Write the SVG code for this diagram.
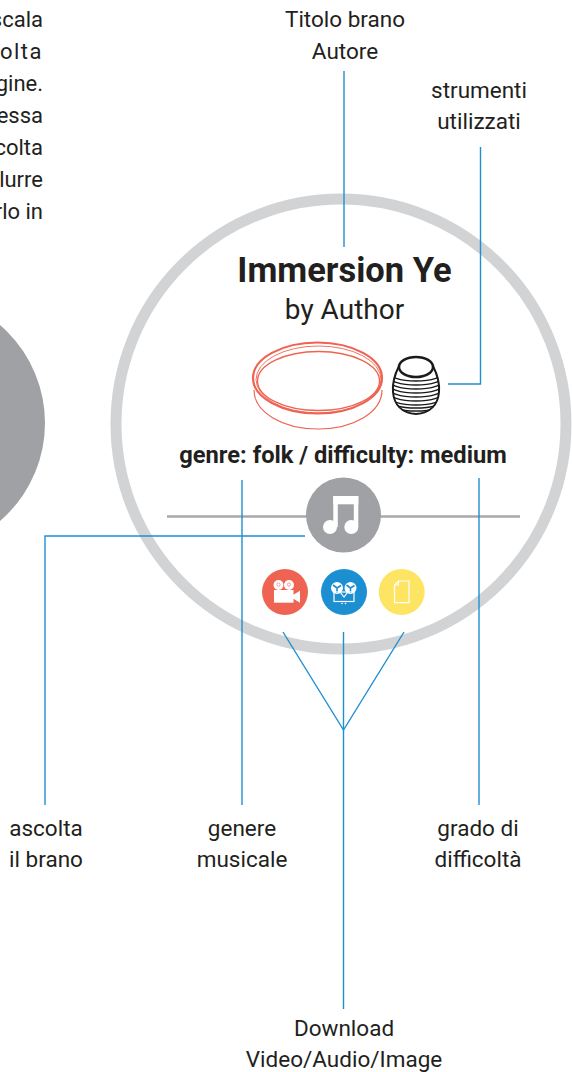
<svg xmlns="http://www.w3.org/2000/svg" width="572" height="1072" viewBox="0 0 572 1072">
  <style>
    .lbl { font-family: Roboto, "Liberation Sans", sans-serif; font-size: 22.5px; fill: #231f20; text-anchor: middle; }
    .side { font-family: Roboto, "Liberation Sans", sans-serif; font-size: 22px; fill: #231f20; text-anchor: end; }
    .title { font-family: Roboto, "Liberation Sans", sans-serif; font-weight: bold; font-size: 34.5px; fill: #231f20; text-anchor: middle; }
    .sub { font-family: Roboto, "Liberation Sans", sans-serif; font-size: 28px; fill: #231f20; text-anchor: middle; }
    .meta { font-family: Roboto, "Liberation Sans", sans-serif; font-weight: bold; font-size: 23.7px; fill: #231f20; text-anchor: middle; }
    .wire { fill: none; stroke: #1f8fd3; stroke-width: 1.4; }
    .hoop { fill: none; stroke: #ee6352; }
    .glyph { fill: #ffffff; }
    .glyph-line { fill: none; stroke: #ffffff; stroke-width: 1.2; }
  </style>
  <defs>
    <clipPath id="shakerBody">
      <path d="M399,366 C395,374 392,382 393,392 C394,404 401,413 416,414 C431,413 438,404 439,392 C440,382 437,374 433,366 Z"/>
    </clipPath>
  </defs>

  <rect width="572" height="1072" fill="#ffffff"/>

  <!-- neighbouring card, cut by the left edge -->
  <g id="prev-card">
    <circle cx="-84" cy="423" r="129" fill="#a0a1a5"/>
    <text class="side" x="43" y="27">scala</text>
    <text class="side" x="43" y="59" letter-spacing="1.5">olta</text>
    <text class="side" x="43" y="91">gine.</text>
    <text class="side" x="43" y="123">essa</text>
    <text class="side" x="43" y="155">colta</text>
    <text class="side" x="43" y="187">lurre</text>
    <text class="side" x="43" y="219">rlo in</text>
  </g>

  <!-- card frame -->
  <g id="card-ring">
    <circle cx="341" cy="424" r="225" fill="none" stroke="#d1d3d4" stroke-width="11"/>
  </g>

  <g id="player-bar">
    <line x1="167" y1="516.5" x2="520" y2="516.5" stroke="#a7a8ab" stroke-width="2.5"/>
  </g>

  <!-- connectors -->
  <g id="connectors">
    <line class="wire" x1="344" y1="71" x2="344" y2="247"/>
    <polyline class="wire" points="448,384 480.5,384 480.5,147"/>
    <polyline class="wire" points="305,536 45,536 45,805"/>
    <line class="wire" x1="242" y1="480" x2="242" y2="805"/>
    <line class="wire" x1="479" y1="478" x2="479" y2="805"/>
    <line class="wire" x1="343.5" y1="632" x2="343.5" y2="1009"/>
    <polyline class="wire" points="283,632 343.5,730 404,632"/>
  </g>

  <g id="song-title">
    <text class="title" x="344.5" y="282">Immersion Ye</text>
    <text class="sub" x="344.5" y="319">by Author</text>
  </g>

  <!-- frame drum -->
  <g id="instrument-drum">
    <path class="hoop" stroke-width="1.2" d="M254,390 C254,412 282,429 318,429 C354,429 382,412 382,390"/>
    <ellipse class="hoop" cx="317.5" cy="378" rx="64.5" ry="35.5" stroke-width="2.2"/>
    <ellipse class="hoop" cx="318.5" cy="379.5" rx="62.5" ry="33.5" stroke-width="0.9"/>
    <ellipse class="hoop" cx="318.5" cy="381" rx="61" ry="29.5" stroke-width="1.3"/>
  </g>

  <!-- shaker -->
  <g id="instrument-shaker">
    <path d="M399,366 C395,374 392,382 393,392 C394,404 401,413 416,414 C431,413 438,404 439,392 C440,382 437,374 433,366 Z" fill="#ffffff" stroke="#1a1a1a" stroke-width="2"/>
    <g clip-path="url(#shakerBody)" fill="none" stroke="#1a1a1a" stroke-width="1.5">
      <path d="M388,372 A28,9 0 0 0 444,372 M388,376 A28,9 0 0 0 444,376 M388,380 A28,9 0 0 0 444,380 M388,384 A28,9 0 0 0 444,384 M388,388 A28,9 0 0 0 444,388 M388,392 A28,9 0 0 0 444,392 M388,396 A28,9 0 0 0 444,396 M388,400 A28,8 0 0 0 444,400 M388,404 A28,7 0 0 0 444,404"/>
    </g>
    <ellipse cx="416" cy="367" rx="17" ry="10" fill="#ffffff" stroke="#1a1a1a" stroke-width="2.5"/>
  </g>

  <g id="song-meta">
    <text class="meta" x="343" y="463">genre: folk / difficulty: medium</text>
  </g>

  <!-- play button -->
  <g id="play-button">
    <circle cx="343.5" cy="515" r="37.5" fill="#a0a1a5"/>
    <rect class="glyph" x="333.3" y="496" width="25" height="8.3"/>
    <rect class="glyph" x="333.3" y="496" width="4.5" height="31"/>
    <rect class="glyph" x="353.8" y="496" width="4.5" height="31"/>
    <circle class="glyph" cx="330" cy="527" r="7"/>
    <circle class="glyph" cx="351.3" cy="527" r="7"/>
  </g>

  <!-- download: video -->
  <g id="download-video">
    <circle cx="285" cy="592" r="23" fill="#ee6352"/>
    <circle class="glyph" cx="278.5" cy="585" r="5"/>
    <circle class="glyph" cx="289" cy="585" r="5"/>
    <circle cx="278.5" cy="584.5" r="1.6" fill="none" stroke="#f4a097" stroke-width="1"/>
    <circle cx="289" cy="584.5" r="1.6" fill="none" stroke="#f4a097" stroke-width="1"/>
    <rect class="glyph" x="274" y="590" width="19.5" height="12.7"/>
    <polygon class="glyph" points="293,595 300,590.7 300,602.7 293,598.5"/>
  </g>

  <!-- download: audio -->
  <g id="download-audio">
    <circle cx="344" cy="592" r="23" fill="#1b8fd2"/>
    <circle class="glyph" cx="337" cy="588" r="6"/>
    <circle class="glyph" cx="350.5" cy="588" r="6"/>
    <g fill="none" stroke="#1b8fd2" stroke-width="1.6">
      <path d="M337,588 L333,585 M337,588 L341,585.5 M337,588 L337,593"/>
      <path d="M350.5,588 L346.5,585 M350.5,588 L354.5,585.5 M350.5,588 L350.5,593"/>
    </g>
    <rect class="glyph-line" x="334" y="592" width="20" height="9.5" stroke-width="1"/>
    <path class="glyph-line" stroke-width="1" d="M340,592 L344,597 L348,592"/>
    <circle class="glyph" cx="342" cy="603.5" r="0.8"/>
    <circle class="glyph" cx="345.5" cy="603.5" r="0.8"/>
  </g>

  <!-- download: image -->
  <g id="download-image">
    <circle cx="401.7" cy="592" r="23" fill="#fde462"/>
    <path class="glyph-line" d="M398.5,581 H409 V602.7 H394.5 V585 Z M394.5,585 H398.5 V581"/>
  </g>

  <!-- labels -->
  <g id="label-title">
    <text class="lbl" x="345" y="27">Titolo brano</text>
    <text class="lbl" x="345" y="59">Autore</text>
  </g>
  <g id="label-instruments">
    <text class="lbl" x="479" y="98">strumenti</text>
    <text class="lbl" x="479" y="129">utilizzati</text>
  </g>
  <g id="label-listen">
    <text class="lbl" x="46" y="836">ascolta</text>
    <text class="lbl" x="46" y="867">il brano</text>
  </g>
  <g id="label-genre">
    <text class="lbl" x="242" y="836">genere</text>
    <text class="lbl" x="242" y="867">musicale</text>
  </g>
  <g id="label-difficulty">
    <text class="lbl" x="478" y="836">grado di</text>
    <text class="lbl" x="478" y="867">difficoltà</text>
  </g>
  <g id="label-download">
    <text class="lbl" x="344" y="1036">Download</text>
    <text class="lbl" x="344" y="1067">Video/Audio/Image</text>
  </g>
</svg>
